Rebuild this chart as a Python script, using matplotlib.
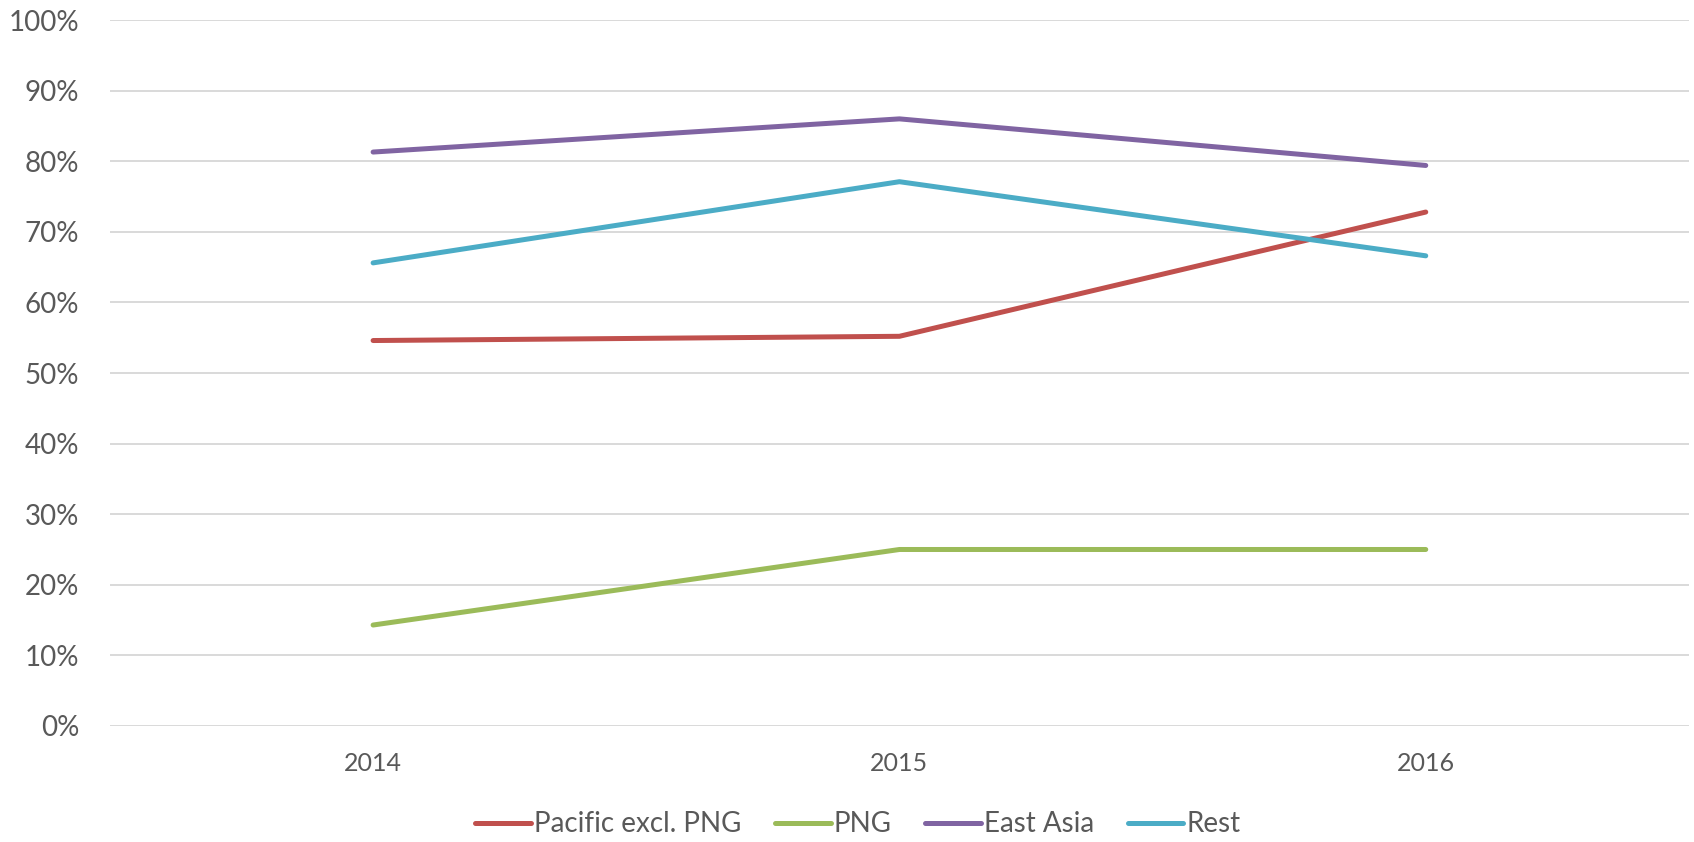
import matplotlib.pyplot as plt

years = ["2014", "2015", "2016"]
pacific_excl_png = [54.6, 55.2, 72.8]
png = [14.3, 25.0, 25.0]
east_asia = [81.3, 86.0, 79.4]
rest = [65.6, 77.1, 66.6]

series = [
    ("Pacific excl. PNG", pacific_excl_png, "#C0504D"),
    ("PNG", png, "#9BBB59"),
    ("East Asia", east_asia, "#8064A2"),
    ("Rest", rest, "#4BACC6"),
]

text_color = "#595959"
plt.rcParams["font.family"] = ["Lato", "DejaVu Sans"]

fig = plt.figure(figsize=(16.94, 8.42), dpi=100)
ax = fig.add_axes([0.0649, 0.1378, 0.9321, 0.8384])

x = range(len(years))
for label, values, color in series:
    ax.plot(x, [v / 100 for v in values], color=color, linewidth=3.6,
            solid_capstyle="round", solid_joinstyle="round", label=label)

ax.set_xlim(-0.5, len(years) - 0.5)
ax.set_ylim(0, 1)
ax.set_yticks([i / 10 for i in range(11)])
ax.set_yticklabels([f"{i * 10}%" for i in range(11)])
ax.set_xticks(list(x))
ax.set_xticklabels(years)

ax.grid(axis="y", color="#D9D9D9", linewidth=1.4)
ax.set_axisbelow(True)
for side in ["top", "right", "left", "bottom"]:
    ax.spines[side].set_visible(False)
ax.tick_params(axis="both", length=0, colors=text_color)
ax.tick_params(axis="y", labelsize=20, pad=22)
ax.tick_params(axis="x", labelsize=18, pad=19)

leg = fig.legend(loc="center", bbox_to_anchor=(0.5065, 0.021), ncol=4,
                 frameon=False, prop={"size": 20},
                 handlelength=2.0, handletextpad=0.12, columnspacing=1.2)
for t in leg.get_texts():
    t.set_color(text_color)

fig.savefig("out.png", dpi=100)
